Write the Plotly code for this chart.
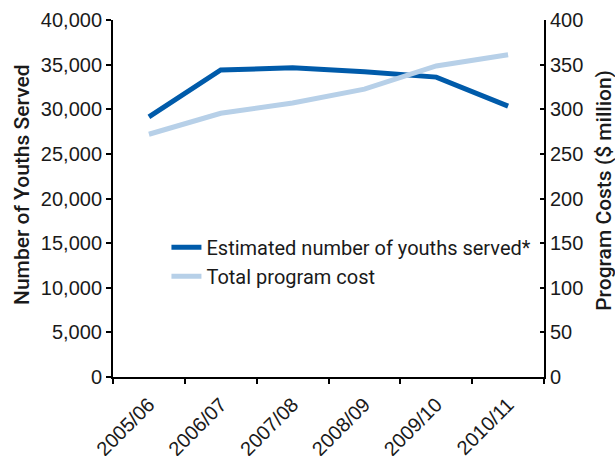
import plotly.graph_objects as go

years = ["2005/06", "2006/07", "2007/08", "2008/09", "2009/10", "2010/11"]
youths_served = [29150, 34400, 34650, 34200, 33600, 30350]
program_cost = [272, 295.5, 307, 322.5, 348.5, 361]

left_ticks = [0, 5000, 10000, 15000, 20000, 25000, 30000, 35000, 40000]
right_ticks = [0, 50, 100, 150, 200, 250, 300, 350, 400]

FONT = "Liberation Sans, Arial, sans-serif"
TITLE_FONT = "Roboto, Liberation Sans, Arial, sans-serif"

fig = go.Figure()
fig.add_trace(go.Scatter(
    x=years, y=youths_served, mode="lines",
    name="Estimated number of youths served*",
    line=dict(color="#005BAA", width=5),
    yaxis="y",
))
fig.add_trace(go.Scatter(
    x=years, y=program_cost, mode="lines",
    name="Total program cost",
    line=dict(color="#B7D0E8", width=5),
    yaxis="y2",
))

fig.update_layout(
    width=615, height=456,
    margin=dict(l=113, r=71, t=20, b=79, autoexpand=False),
    paper_bgcolor="white", plot_bgcolor="white",
    font=dict(family=FONT, size=20, color="#1a1a1a"),
    showlegend=True,
    legend=dict(
        x=0.124, y=0.418, xanchor="left", yanchor="top",
        bgcolor="rgba(0,0,0,0)",
        font=dict(size=20, family=TITLE_FONT, color="#1a1a1a"),
        tracegroupgap=0, itemwidth=30,
    ),
    xaxis=dict(
        type="category", range=[-0.5, 5.5],
        showline=True, linecolor="black", linewidth=2,
        ticks="outside", ticklen=5, tickwidth=2, tickcolor="black",
        tickson="boundaries", tickangle=-45, ticklabelstandoff=6,
        showgrid=False, zeroline=False, automargin=False,
        tickfont=dict(size=20),
    ),
    yaxis=dict(
        range=[0, 40000], tickvals=left_ticks,
        ticktext=[f"{v:,}" for v in left_ticks],
        showline=True, linecolor="black", linewidth=2,
        ticks="outside", ticklen=5, tickwidth=2, tickcolor="black",
        showgrid=False, zeroline=False, automargin=False,
        tickfont=dict(size=20),
    ),
    yaxis2=dict(
        range=[0, 400], tickvals=right_ticks,
        overlaying="y", side="right",
        showline=True, linecolor="black", linewidth=2,
        ticks="inside", ticklen=4, tickwidth=2, tickcolor="black",
        showgrid=False, zeroline=False, automargin=False,
        tickfont=dict(size=20),
    ),
    annotations=[
        dict(text="Number of Youths Served", textangle=-90,
             xref="paper", yref="paper", x=-0.211, y=0.538,
             xanchor="center", yanchor="middle", showarrow=False,
             font=dict(family=TITLE_FONT, size=21, weight=500, color="#1a1a1a")),
        dict(text="Program Costs ($ million)", textangle=-90,
             xref="paper", yref="paper", x=1.139, y=0.524,
             xanchor="center", yanchor="middle", showarrow=False,
             font=dict(family=TITLE_FONT, size=21, weight=500, color="#1a1a1a")),
    ],
)

fig.write_html("out.html")
